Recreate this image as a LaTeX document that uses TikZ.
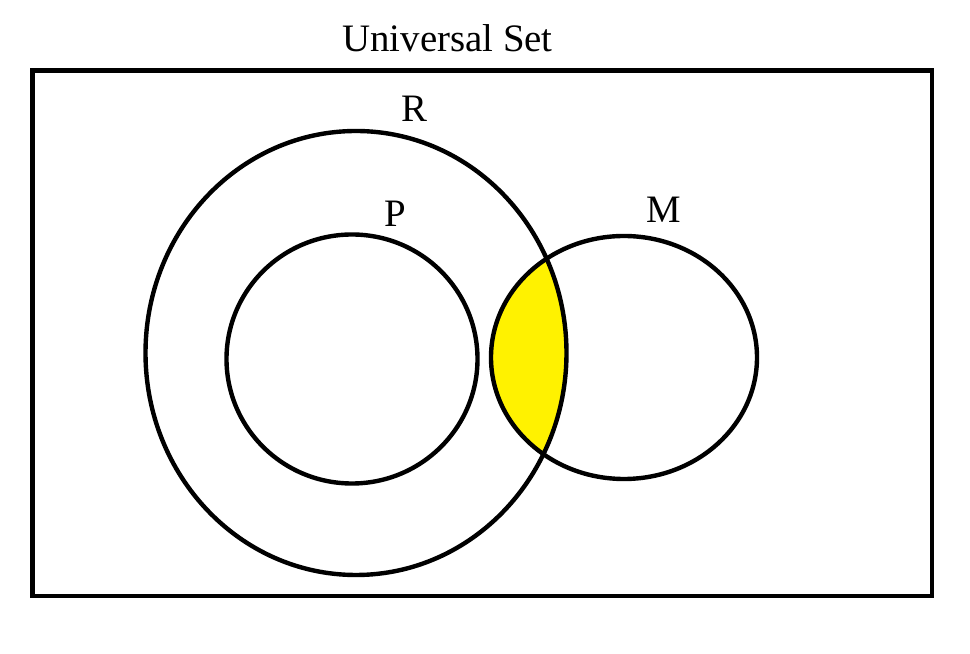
\documentclass[tikz,border=0pt]{standalone}
\usepackage{fontspec}
\setmainfont{Liberation Serif}
\usepackage{tikz}
\usetikzlibrary{positioning, calc}
\usepackage[dvipsnames, svgnames]{xcolor}

\begin{document}
\begin{tikzpicture}[x=1bp, y=1bp, line width=4.4bp,
    setlabel/.style={anchor=base, inner sep=0pt, font=\fontsize{39}{41}\selectfont}]
    \useasboundingbox (0, 0) rectangle (970, 654);

    % Centres
    \coordinate (cR) at (356, 301);
    \coordinate (cP) at (352, 295);
    \coordinate (cM) at (624, 296.5);

    % Overlap of R and M
    \begin{scope}
        \clip (cR) ellipse [x radius=210.5, y radius=222];
        \fill[yellow] (cM) ellipse [x radius=133, y radius=121.5];
    \end{scope}

    % Universe
    \draw (32.5, 58) rectangle (932, 583.5);
    \node[setlabel] (uni) at (447.5, 602) {Universal Set};

    % Sets
    \draw (cR) ellipse [x radius=210.5, y radius=222];
    \draw (cP) ellipse [x radius=125.5, y radius=124.5];
    \draw (cM) ellipse [x radius=133, y radius=121.5];
    \node[setlabel] (labR) at (414, 532) {R};
    \node[setlabel] (labP) at (395, 427) {P};
    \node[setlabel] (labM) at (663.5, 431) {M};
\end{tikzpicture}
\end{document}
